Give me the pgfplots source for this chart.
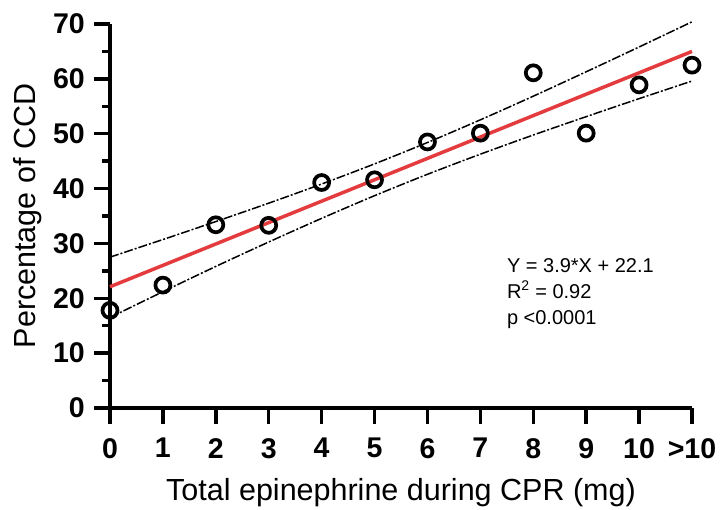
\documentclass[border=0pt]{standalone}
\usepackage{fontspec}
\setmainfont{Liberation Sans}
\usepackage{pgfplots}
\pgfplotsset{compat=1.18}
\definecolor{fitred}{RGB}{228,60,62}
\begin{document}
\begin{tikzpicture}
\path[use as bounding box] (-110bp,-102bp) rectangle (615bp,408bp);
\begin{axis}[
  scale only axis, width=582bp, height=384bp,
  xmin=0, xmax=11, ymin=0, ymax=70,
  clip=false,
  axis lines*=left,
  axis line style={line width=3.5bp, black},
  xtick={0,1,2,3,4,5,6,7,8,9,10,11},
  xticklabels={0,1,2,3,4,5,6,7,8,9,10,{>10}},
  ytick={0,10,20,30,40,50,60,70},
  minor ytick={5,15,25,35,45,55,65},
  tick align=outside,
  major tick length=16bp, minor tick length=8bp,
  tick style={line width=3.5bp, black},
  /pgf/number format/assume math mode=true,
  ticklabel style={font=\fontsize{28.5bp}{30bp}\selectfont\bfseries, inner sep=0pt},
  xticklabel style={anchor=north, yshift=-14bp},
  yticklabel style={anchor=east, xshift=-9bp},
  label style={font=\fontsize{30.5bp}{32bp}\selectfont, inner sep=0pt},
  xlabel={Total epinephrine during CPR (mg)},
  ylabel={Percentage of CCD},
  xlabel style={at={(axis description cs:0.5,0)}, anchor=base, yshift=-92bp},
  ylabel style={at={(axis description cs:0,0.5)}, anchor=north, yshift=97bp},
]
% 95% confidence bands
\addplot[black, line width=1.5bp, smooth, dash pattern=on 9bp off 2bp on 2bp off 2bp] coordinates {
(0,27.5)(1,30.71)(2,33.99)(3,37.34)(4,40.83)(5,44.5)(6,48.4)(7,52.53)(8,56.84)(9,61.29)(10,65.81)(11,70.4)};
\addplot[black, line width=1.5bp, smooth, dash pattern=on 9bp off 2bp on 2bp off 2bp] coordinates {
(0,16.5)(1,21.2)(2,25.81)(3,30.26)(4,34.57)(5,38.7)(6,42.6)(7,46.27)(8,49.76)(9,53.11)(10,56.39)(11,59.6)};
% regression line
\addplot[fitred, line width=3.5bp] coordinates {(0,22.1)(11,65.0)};
% data
\addplot[only marks, mark=o, mark size=7.5bp, mark options={line width=3.7bp, black, fill=white}] coordinates {
(0,17.8)(1,22.4)(2,33.4)(3,33.3)(4,41.1)(5,41.6)(6,48.5)(7,50.1)(8,61.1)(9,50.1)(10,58.9)(11,62.5)};
\node[anchor=north west, inner sep=0pt, align=left, font=\fontsize{20bp}{26bp}\selectfont] at (axis cs:7.5,27.3) {Y = 3.9*X + 22.1\\R\textsuperscript{2} = 0.92\\p <0.0001};
\end{axis}
\end{tikzpicture}
\end{document}
